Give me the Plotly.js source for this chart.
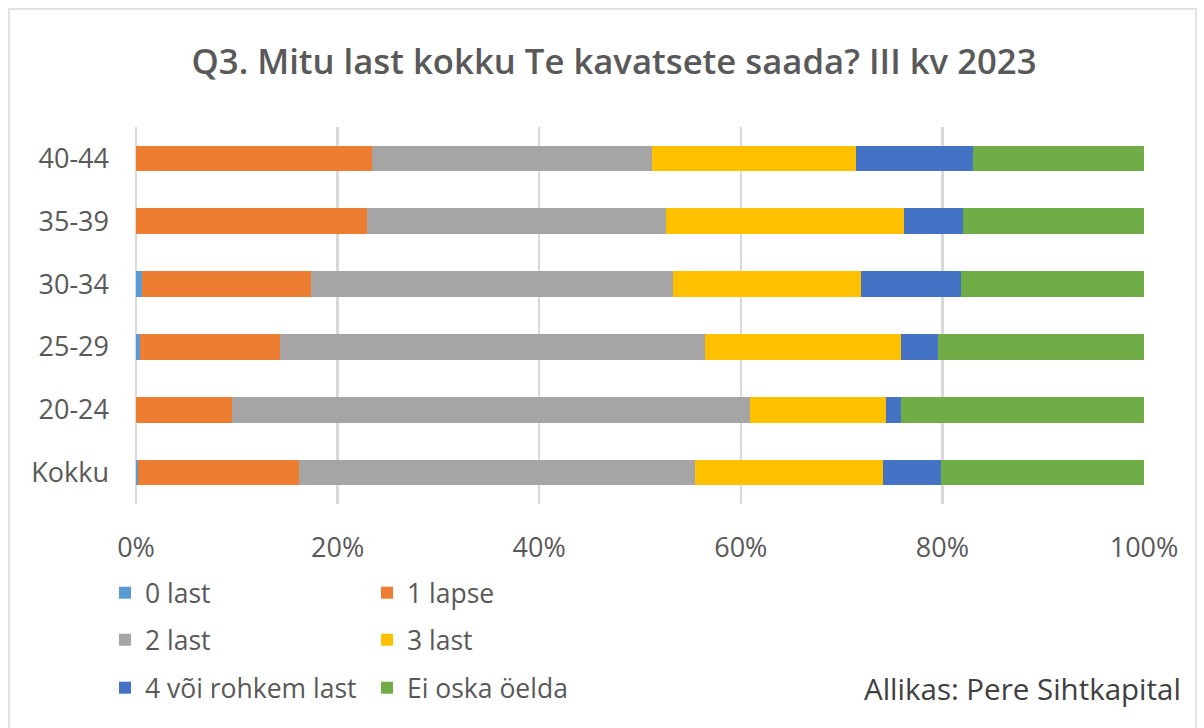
<!DOCTYPE html>
<html>
<head>
<meta charset="utf-8">
<script src="https://cdn.plot.ly/plotly-3.0.1.min.js"></script>
<style>html,body{margin:0;padding:0;background:#fff;}#chart{width:1204px;height:728px;}</style>
</head>
<body>
<div id="chart"></div>
<script>
// Categories (bottom to top)
const categories = ['Kokku', '20-24', '25-29', '30-34', '35-39', '40-44'];

// Series values (shares, %)
const last0   = [0.2, 0.0, 0.4, 0.6, 0.0, 0.0];
const lapse1  = [16.0, 9.5, 13.9, 16.8, 22.9, 23.4];
const last2   = [39.3, 51.4, 42.1, 35.9, 29.7, 27.8];
const last3   = [18.6, 13.5, 19.5, 18.6, 23.6, 20.2];
const last4   = [5.8, 1.5, 3.7, 9.9, 5.8, 11.6];
const eiOska  = [20.1, 24.1, 20.4, 18.2, 18.0, 17.0];

const seriesNames = ['0 last', '1 lapse', '2 last', '3 last', '4 või rohkem last', 'Ei oska öelda'];
const seriesData = [last0, lapse1, last2, last3, last4, eiOska];
const seriesColors = ['#5B9BD5', '#ED7D31', '#A5A5A5', '#FFC000', '#4472C4', '#70AD47'];
const seriesLegend = ['legend', 'legend', 'legend2', 'legend2', 'legend3', 'legend3'];

const titleText = 'Q3. Mitu last kokku Te kavatsete saada? III kv 2023';
const sourceText = 'Allikas: Pere Sihtkapital';
const xTickVals = [0, 0.2, 0.4, 0.6, 0.8, 1.0];
const xTickText = ['0%', '20%', '40%', '60%', '80%', '100%'];

const FONT = '"Open Sans", "Segoe UI", sans-serif';
const TXT = '#595959';

const traces = seriesNames.map((name, i) => ({
  type: 'bar',
  orientation: 'h',
  name: name,
  y: categories,
  x: seriesData[i].map(v => v / 100),
  marker: { color: seriesColors[i], line: { width: 0 } },
  legend: seriesLegend[i],
  hoverinfo: 'skip'
}));

// plot area geometry helpers
const W = 1204, H = 728;
const L = 136, R = 60, T = 127, B = 224;
const PW = W - L - R, PH = H - T - B;
const px = x => (x - L) / PW;
const py = y => (H - B - y) / PH;

const legendCommon = {
  orientation: 'h',
  xref: 'paper', yref: 'paper',
  x: px(105), xanchor: 'left',
  yanchor: 'middle',
  entrywidth: 217,
  entrywidthmode: 'pixels',
  traceorder: 'normal',
  font: { family: FONT, size: 26.5, color: TXT },
  bgcolor: 'rgba(0,0,0,0)',
  itemclick: false
};

const layout = {
  width: W, height: H,
  margin: { l: L, r: R, t: T, b: B },
  paper_bgcolor: '#ffffff',
  plot_bgcolor: '#ffffff',
  barmode: 'stack',
  bargap: 0.59,
  title: {
    text: titleText,
    font: { family: FONT, size: 34.7, color: TXT, weight: 600 },
    xref: 'container', x: 614 / W, xanchor: 'center',
    yref: 'container', y: 1 - 62 / H, yanchor: 'middle'
  },
  xaxis: {
    range: [0, 1],
    tickvals: xTickVals,
    ticktext: xTickText,
    showgrid: true,
    gridcolor: '#D9D9D9',
    gridwidth: 2.5,
    zeroline: true,
    zerolinecolor: '#D9D9D9',
    zerolinewidth: 2.5,
    showline: false,
    ticks: '',
    ticklabelstandoff: 25,
    tickfont: { family: FONT, size: 27, color: TXT },
    fixedrange: true
  },
  yaxis: {
    categoryorder: 'array',
    categoryarray: categories,
    showgrid: false,
    zeroline: false,
    showline: false,
    ticks: '',
    ticklabelstandoff: 26,
    tickfont: { family: FONT, size: 27, color: TXT },
    fixedrange: true
  },
  showlegend: true,
  legend: Object.assign({}, legendCommon, { y: py(593) }),
  legend2: Object.assign({}, legendCommon, { y: py(640) }),
  legend3: Object.assign({}, legendCommon, { y: py(688) }),
  annotations: [{
    text: sourceText,
    xref: 'paper', yref: 'paper',
    x: px(1183), xanchor: 'right',
    y: py(688), yanchor: 'middle',
    showarrow: false,
    font: { family: FONT, size: 29.5, color: '#404040' }
  }],
  shapes: [{
    type: 'rect', xref: 'paper', yref: 'paper',
    x0: px(9), x1: px(1196), y0: py(740), y1: py(9),
    line: { color: '#D9D9D9', width: 1.5 },
    fillcolor: 'rgba(0,0,0,0)',
    layer: 'below'
  }]
};

Plotly.newPlot('chart', traces, layout, { staticPlot: true, displayModeBar: false });
</script>
</body>
</html>
